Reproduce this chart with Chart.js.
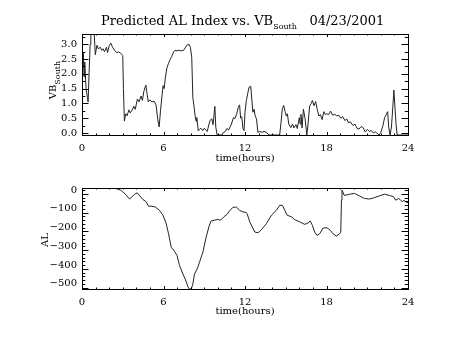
<!DOCTYPE html>
<html>
<head>
<meta charset="utf-8">
<script src="https://cdn.jsdelivr.net/npm/chart.js@4/dist/chart.umd.min.js"></script>
<style>
  body { margin: 0; background: #fff; }
  #wrap { position: relative; width: 454px; height: 341px; overflow: hidden; }
  canvas { position: absolute; left: 0; }
  .txt { position: absolute; font-family: 'DejaVu Serif', serif; color: #000; white-space: nowrap; }
  .txt sub { font-size: 8px; vertical-align: -4px; }
</style>
</head>
<body>
<div id="wrap">
  <canvas id="vbChart" width="454" height="170" style="top:0"></canvas>
  <canvas id="alChart" width="454" height="170" style="top:154px"></canvas>
  <div class="txt" style="left:101px; top:13px; font-size:13px;">Predicted AL Index vs. VB<sub>South</sub>&nbsp;&nbsp; 04/23/2001</div>
  <div class="txt" style="left:54px; top:80px; font-size:10px; transform:translate(-50%,-50%) rotate(-90deg);">VB<sub>South</sub></div>
  <div class="txt" style="left:44px; top:240px; font-size:10px; transform:translate(-50%,-50%) rotate(-90deg);">AL</div>
</div>
<script>
// top panel: VB south (hours, value)
const hoursVB = [0.0, 0.05, 0.1, 0.15, 0.2, 0.3, 0.4, 0.45, 0.52, 0.6, 0.65, 0.9, 0.98, 1.1, 1.2, 1.35, 1.45, 1.55, 1.65, 1.8,
  1.88, 2.0, 2.12, 2.25, 2.4, 2.55, 2.7, 2.85, 3.0, 3.05, 3.12, 3.22, 3.32, 3.45, 3.55, 3.7, 3.82, 3.92, 4.08, 4.2,
  4.35, 4.45, 4.55, 4.7, 4.8, 4.88, 5.0, 5.15, 5.3, 5.45, 5.58, 5.68, 5.78, 5.9, 5.97, 6.05, 6.13, 6.25, 6.37, 6.5,
  6.6, 6.74, 6.85, 7.0, 7.15, 7.3, 7.48, 7.6, 7.72, 7.88, 7.98, 8.08, 8.16, 8.26, 8.33, 8.4, 8.45, 8.56, 8.65, 8.75,
  8.88, 9.0, 9.1, 9.22, 9.35, 9.43, 9.55, 9.65, 9.78, 9.85, 9.95, 10.1, 10.3, 10.4, 10.55, 10.66, 10.8, 10.9, 11.0, 11.15,
  11.25, 11.4, 11.5, 11.6, 11.68, 11.76, 11.85, 11.93, 12.0, 12.1, 12.22, 12.3, 12.42, 12.5, 12.58, 12.67, 12.75, 12.85, 12.95, 13.1,
  13.25, 13.4, 13.58, 13.75, 14.55, 14.65, 14.75, 14.85, 14.95, 15.05, 15.12, 15.22, 15.37, 15.5, 15.6, 15.75, 15.85, 16.0, 16.06, 16.12,
  16.2, 16.3, 16.42, 16.55, 16.62, 16.76, 16.88, 16.96, 17.08, 17.2, 17.32, 17.44, 17.55, 17.68, 17.8, 17.92, 18.0, 18.15, 18.3, 18.45,
  18.6, 18.75, 18.9, 19.05, 19.2, 19.35, 19.5, 19.62, 19.75, 19.95, 20.1, 20.25, 20.4, 20.55, 20.7, 20.85, 21.0, 21.15, 21.3, 21.45,
  21.6, 21.75, 21.88, 22.0, 22.15, 22.28, 22.4, 22.5, 22.58, 22.68, 22.78, 22.88, 22.96, 23.05, 23.12, 23.2, 24.0];
const vbSouth = [2.6, 2.2, 2.7, 1.9, 2.4, 1.5, 1.2, 1.05, 2.0, 3.0, 3.35, 3.35, 2.65, 2.97, 2.85, 2.9, 2.8, 2.85, 2.75, 2.9,
  2.72, 2.95, 3.04, 2.9, 2.8, 2.72, 2.74, 2.7, 2.62, 1.5, 0.4, 0.65, 0.58, 0.78, 0.68, 0.78, 0.9, 0.8, 1.15, 1.05,
  1.25, 1.1, 1.4, 1.62, 1.3, 1.05, 1.12, 1.05, 1.08, 0.95, 0.45, 0.2, 0.75, 1.3, 1.6, 1.5, 1.85, 2.2, 2.36, 2.5,
  2.58, 2.74, 2.8, 2.78, 2.8, 2.78, 2.8, 2.88, 2.97, 3.0, 2.9, 2.55, 1.2, 0.85, 0.58, 0.4, 0.52, 0.07, 0.12, 0.16,
  0.08, 0.16, 0.1, 0.05, 0.3, 0.42, 0.48, 0.28, 0.9, 0.2, -0.07, -0.07, -0.07, 0.01, 0.05, 0.15, 0.1, 0.2, 0.3, 0.52,
  0.48, 0.66, 0.86, 0.95, 0.5, 0.55, 0.15, 0.08, 0.7, 1.1, 1.38, 1.55, 1.58, 1.15, 0.7, 0.8, 0.57, 0.47, 0.02, 0.05,
  0.02, 0.05, 0.02, -0.07, -0.07, 0.34, 0.82, 0.93, 0.72, 0.57, 0.65, 0.3, 0.18, 0.3, 0.17, 0.28, 0.15, 0.52, 0.3, 0.63,
  0.17, 0.8, 0.5, -0.07, 0.2, 0.92, 1.0, 1.1, 0.92, 1.06, 0.8, 0.57, 0.62, 0.45, 0.72, 0.62, 0.65, 0.62, 0.74, 0.6,
  0.63, 0.58, 0.6, 0.5, 0.55, 0.42, 0.47, 0.34, 0.38, 0.25, 0.3, 0.15, 0.13, 0.22, 0.18, 0.03, 0.12, 0.05, 0.08, 0.0,
  0.04, -0.03, -0.07, 0.02, 0.24, 0.52, 0.62, 0.72, 0.2, -0.07, 0.2, 0.85, 1.45, 0.8, 0.3, -0.07, -0.07];

// bottom panel: predicted AL index
const hoursAL = [2.4, 2.65, 2.83, 3.0, 3.26, 3.5, 3.6, 3.87, 4.07, 4.2, 4.48, 4.73, 4.9, 5.1, 5.39, 5.7, 5.96, 6.2, 6.37, 6.57,
  6.8, 7.0, 7.18, 7.43, 7.6, 7.8, 7.9, 8.04, 8.16, 8.28, 8.48, 8.65, 8.9, 9.14, 9.34, 9.5, 9.75, 10.0, 10.2, 10.44,
  10.69, 10.86, 11.1, 11.35, 11.6, 11.84, 12.08, 12.15, 12.35, 12.72, 12.96, 13.21, 13.58, 13.95, 14.31, 14.56, 14.75, 14.93, 15.1, 15.42,
  15.66, 16.03, 16.4, 16.64, 16.8, 16.96, 17.13, 17.3, 17.5, 17.74, 18.04, 18.28, 18.48, 18.72, 18.97, 19.05, 19.1, 19.14, 19.2, 19.29,
  19.46, 19.7, 20.07, 20.44, 20.8, 21.18, 21.54, 21.9, 22.28, 22.65, 22.94, 23.09, 23.3, 23.45, 23.58, 23.7, 23.82, 24.0];
const alIndex = [12, 4, 0, -9, -27, -48, -42, -22, -15, -27, -50, -63, -86, -86, -90, -108, -134, -179, -233, -305,
  -326, -350, -403, -448, -475, -516, -528, -528, -502, -448, -421, -385, -331, -251, -197, -165, -161, -157, -161, -143,
  -129, -111, -93, -90, -108, -116, -120, -125, -170, -224, -228, -211, -179, -134, -108, -81, -81, -108, -134, -143,
  -158, -170, -183, -176, -165, -188, -224, -242, -233, -203, -201, -215, -233, -245, -233, -224, -54, 0, -9, -27,
  -27, -22, -18, -32, -45, -48, -40, -31, -22, -29, -36, -54, -45, -52, -63, -54, -63, -68];

const hourTicks = [0, 6, 12, 18, 24];
const vbTicks = [0, 0.5, 1.0, 1.5, 2.0, 2.5, 3.0];
const alTicks = [0, -100, -200, -300, -400, -500];

const tickFont = { family: 'DejaVu Serif', size: 10 };

// IDL-like box with inward ticks on all four sides
const idlFrame = {
  id: 'idlFrame',
  afterDatasetsDraw(chart, args, opts) {
    const { ctx, chartArea: a, scales } = chart;
    const xs = scales.x, ys = scales.y;
    ctx.save();
    ctx.strokeStyle = '#000';
    ctx.lineWidth = 1;
    ctx.strokeRect(Math.round(a.left) + 0.5, Math.round(a.top) + 0.5,
      Math.round(a.right - a.left), Math.round(a.bottom - a.top));
    ctx.beginPath();
    for (let h = 0; h <= 24; h++) {
      const px = Math.round(xs.getPixelForValue(h)) + 0.5;
      const len = h % 6 === 0 ? 3 : 1.5;
      ctx.moveTo(px, a.bottom); ctx.lineTo(px, a.bottom - len);
      ctx.moveTo(px, a.top); ctx.lineTo(px, a.top + len);
    }
    const n = Math.round((opts.last - opts.first) / opts.minor);
    for (let i = 0; i <= n; i++) {
      const v = opts.first + i * opts.minor;
      if (v < ys.min || v > ys.max) continue;
      const py = Math.round(ys.getPixelForValue(v)) + 0.5;
      const len = i % opts.per === 0 ? 6.5 : 3.3;
      ctx.moveTo(a.left, py); ctx.lineTo(a.left + len, py);
      ctx.moveTo(a.right, py); ctx.lineTo(a.right - len, py);
    }
    ctx.stroke();
    ctx.restore();
  }
};

function makeChart(id, hours, values, yMin, yMax, yTicks, fmt, frame, titlePad) {
  return new Chart(document.getElementById(id), {
    type: 'scatter',
    data: {
      datasets: [{
        data: hours.map((h, i) => ({ x: h, y: values[i] })),
        showLine: true,
        borderColor: '#222',
        borderWidth: 1,
        pointRadius: 0,
        tension: 0
      }]
    },
    options: {
      responsive: false,
      animation: false,
      devicePixelRatio: 1,
      layout: { padding: { left: 0, top: 34, right: 46, bottom: 0 } },
      plugins: { legend: { display: false }, tooltip: { enabled: false }, idlFrame: frame },
      scales: {
        x: {
          type: 'linear', min: 0, max: 24,
          afterBuildTicks: s => { s.ticks = hourTicks.map(v => ({ value: v })); },
          afterFit: s => { s.height = 35; },
          grid: { display: false, drawTicks: false }, border: { display: false },
          ticks: { font: tickFont, color: '#000', padding: 7, maxRotation: 0, autoSkip: false },
          title: { display: true, text: 'time(hours)', font: tickFont, color: '#000', padding: { top: 0, bottom: titlePad } }
        },
        y: {
          type: 'linear', min: yMin, max: yMax,
          afterBuildTicks: s => { s.ticks = yTicks.map(v => ({ value: v })); },
          afterFit: s => { s.width = 82; },
          grid: { display: false, drawTicks: false }, border: { display: false },
          ticks: { font: tickFont, color: '#000', padding: 5, autoSkip: false, callback: fmt }
        }
      }
    },
    plugins: [idlFrame]
  });
}

makeChart('vbChart', hoursVB, vbSouth, -0.07, 3.35, vbTicks,
  v => v.toFixed(1), { first: 0, last: 3.25, minor: 0.25, per: 2 }, 6);
makeChart('alChart', hoursAL, alIndex, -528, 11, alTicks,
  v => (v < 0 ? '\u2212' + Math.abs(v) : String(v)), { first: -520, last: 0, minor: 20, per: 5 }, 7);
</script>
</body>
</html>
